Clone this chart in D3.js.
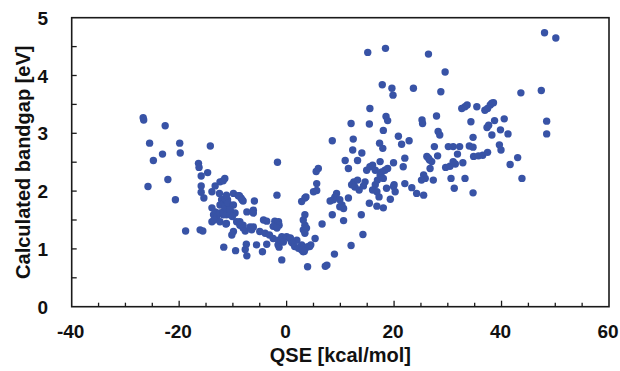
<!DOCTYPE html>
<html>
<head>
<meta charset="utf-8">
<script src="https://cdn.jsdelivr.net/npm/d3@7"></script>
<style>
  body { margin: 0; background: #fff; }
  text { font-family: "Liberation Sans", Arial, sans-serif; font-weight: bold; fill: #111; }
</style>
</head>
<body>
<svg id="chart" width="620" height="371"></svg>
<script>
// QSE [kcal/mol] vs calculated bandgap [eV]
const qse = [
  -26.7, -26.6, -25.5, -24.8, -25.8, -23.1, -22.6, -22.1, -20.7, -19.9, -19.8, -18.8,
  -16.4, -16.3, -15.9, -15.9, -15.9, -15.4, -16.1, -15.6, -14.7, -14.2, -13.9, -13.3,
  -12.4, -11.8, -11.5, -12.5, -12.1, -11.8, -11.0, -13.9, -13.3, -13.6, -13.0, -13.9,
  -13.5, -12.4, -11.3, -11.7, -12.4, -11.8, -11.5, -11.2, -11.5, -11.2, -11.8, -11.2,
  -10.2, -9.6, -11.2, -9.9, -9.0, -8.5, -8.1, -12.4, -11.5, -10.9, -9.9, -10.5,
  -10.6, -10.5, -10.1, -8.7, -8.1, -8.8, -8.3,
  -9.3, -8.7, -8.1, -7.7, -9.9, -10.2, -6.8, -6.5, -6.2, -5.0, -4.3, -3.7,
  -2.2, -1.5, -1.4, -4.0, -3.2, -2.5, -1.5, -0.9, -7.4, -6.2, -6.2, -6.0,
  -1.7, -1.8, -9.5, -7.7, -7.4, -5.6, -4.5, -3.7, -0.9, -7.5, -2.5, -1.8,
  -1.6, -1.4, -1.1,
  0.0, 0.6, 0.9, -0.6, 1.9, 2.8, 3.7, 3.1, 3.4, 3.1, 3.4, 3.9, 2.8, 3.4, 3.1, 4.0,
  0.7, 1.1, 1.5, 2.2, 2.8, 3.3, 4.3, 4.5, 3.7, 3.4,
  5.9, 5.5, 5.6, 5.0, 5.6, 3.6, 9.3, 9.0, 8.7, 8.1, 9.9, 10.3, 10.6, 9.9, 11.5,
  8.5, 13.9, 6.6, 10.6, 5.3, 14.2, 12.0, 8.9, 7.5, 7.2, 8.5, 12.0, 12.4, 12.3,
  14.0, 10.9, 13.2, 11.5, 14.9, 12.5, 13.2, 12.1, 12.7, 14.6, 14.3, 13.5,
  15.5, 18.5, 18.8, 15.4, 18.0, 20.8, 17.3, 17.9, 15.5, 16.0, 16.5, 19.9, 18.6,
  20.0, 19.3, 17.2, 15.4, 16.8, 18.0, 15.1, 18.4, 17.8, 19.6, 19.8, 23.6, 21.4,
  22.8, 22.0, 21.7, 22.0, 23.3, 24.2, 20.2, 19.9, 17.4, 18.3, 18.8, 17.7, 16.9,
  16.5, 16.0, 16.8, 17.4, 18.0,
  26.4, 29.5, 28.7, 32.6, 33.2, 33.6, 35.4, 36.9, 37.4, 37.9, 38.2, 38.5, 25.2,
  25.3, 27.9, 34.3, 37.3, 37.6, 38.7, 28.2, 28.5, 34.7, 38.2, 27.5, 30.1, 31.0,
  32.2, 34.0, 34.7, 26.1, 26.6, 27.0, 26.4, 28.1, 31.8, 34.8, 35.7, 36.5, 37.4,
  39.6, 39.9, 25.5, 25.8, 25.1, 27.3, 26.7, 29.6, 30.4, 31.4, 31.0, 32.8, 30.6,
  33.2, 31.2, 34.7, 25.5,
  48.0, 50.1, 43.6, 47.4, 40.5, 48.4, 48.4, 39.8, 41.2, 43.0, 41.6, 43.8
];
const bandgap = [
  3.27, 3.23, 2.83, 2.53, 2.08, 2.64, 3.13, 2.20, 1.85, 2.83, 2.66, 1.31,
  2.48, 2.41, 2.26, 2.09, 1.98, 1.88, 1.33, 1.31, 2.32, 2.78, 1.99, 2.09,
  2.16, 2.18, 2.22, 1.96, 1.85, 1.79, 1.85, 1.71, 1.64, 1.59, 1.56, 1.47,
  1.50, 1.47, 1.43, 1.03, 1.62, 1.59, 1.67, 1.73, 1.87, 1.93, 1.64, 1.59,
  1.62, 1.62, 1.44, 1.96, 1.92, 1.88, 1.83, 1.76, 1.73, 1.79, 1.76, 1.67,
  1.68, 1.59, 1.56, 1.47, 1.41, 1.92, 1.85,
  1.47, 1.41, 1.36, 1.31, 1.30, 1.24, 1.38, 1.33, 1.38, 1.30, 1.50, 1.48,
  1.48, 1.47, 1.41, 1.27, 1.24, 1.18, 1.15, 1.21, 1.64, 1.67, 1.62, 1.83,
  2.50, 1.93, 0.97, 0.99, 0.88, 1.07, 0.95, 1.08, 0.81, 1.08, 1.39, 1.36,
  1.07, 1.03, 1.16,
  1.21, 1.18, 1.12, 1.12, 1.15, 1.07, 1.03, 1.33, 1.41, 1.50, 1.59, 0.69, 1.82, 1.88, 0.95, 1.04,
  1.19, 1.10, 1.04, 1.01, 0.98, 0.96, 1.04, 1.07, 1.36, 1.27,
  2.39, 2.34, 2.13, 1.99, 2.01, 1.90, 1.96, 1.90, 1.85, 1.83, 1.85, 1.76, 1.70, 1.73, 1.88,
  1.59, 1.59, 1.43, 1.49, 1.18, 1.25, 1.06, 0.91, 0.72, 0.70, 2.87, 3.17, 2.90, 2.71,
  2.66, 2.53, 2.53, 2.39, 2.36, 2.16, 2.19, 2.11, 2.07, 2.16, 2.09, 2.02,
  3.43, 3.29, 3.22, 3.16, 3.05, 2.95, 2.83, 2.74, 2.42, 2.45, 2.36, 2.49, 2.05,
  2.11, 1.86, 1.90, 1.79, 1.74, 1.71, 4.40, 4.47, 3.84, 3.78, 3.66, 3.78, 2.81,
  2.87, 2.57, 2.42, 2.13, 2.06, 1.96, 1.99, 2.08, 2.51, 2.36, 2.39, 2.33, 2.19,
  2.11, 2.02, 1.99, 2.28, 2.22,
  4.37, 4.06, 3.72, 3.43, 3.46, 3.49, 3.46, 3.40, 3.43, 3.49, 3.52, 3.53, 3.23,
  3.17, 3.30, 3.20, 3.10, 3.14, 3.22, 3.03, 2.97, 2.93, 2.97, 2.77, 2.77, 2.77,
  2.77, 2.78, 2.76, 2.60, 2.54, 2.51, 2.57, 2.61, 2.64, 2.60, 2.61, 2.62, 2.67,
  2.80, 2.71, 2.28, 2.22, 2.19, 2.19, 2.39, 2.41, 2.43, 2.47, 2.51, 2.49, 2.22,
  2.22, 2.05, 1.97, 1.93,
  4.74, 4.65, 3.70, 3.74, 3.25, 3.21, 2.99, 3.06, 2.99, 2.58, 2.46, 2.22
];
const xTickLabels = [-40, -20, 0, 20, 40, 60];
const yTickLabels = [0, 1, 2, 3, 4, 5];

const svg = d3.select('#chart');
const plotLeft = 71.7, plotRight = 609, plotTop = 17.7, plotBottom = 306.7;

const x = d3.scaleLinear().domain([-40, 60]).range([plotLeft, plotRight]);
const y = d3.scaleLinear().domain([0, 5]).range([plotBottom, plotTop]);

const points = qse.map((q, i) => ({ q, g: bandgap[i] }));

// points
svg.append('g')
    .selectAll('circle')
    .data(points)
    .enter()
    .append('circle')
    .attr('cx', d => x(d.q))
    .attr('cy', d => y(d.g))
    .attr('r', 3.7)
    .attr('fill', '#3853a6');

// frame
svg.append('rect')
    .attr('x', plotLeft).attr('y', plotTop)
    .attr('width', plotRight - plotLeft).attr('height', plotBottom - plotTop)
    .attr('fill', 'none').attr('stroke', '#1a1a1a').attr('stroke-width', 1.6);

// x axis: inward ticks every 5, longer at labels
const xMinor = d3.range(-35, 60, 5);
svg.append('g').attr('transform', `translate(0,${plotBottom})`)
    .selectAll('line')
    .data(xMinor)
    .enter()
    .append('line')
    .attr('x1', d => x(d)).attr('x2', d => x(d))
    .attr('y1', 0).attr('y2', d => xTickLabels.includes(d) ? -6 : -4)
    .attr('stroke', '#1a1a1a').attr('stroke-width', 1.3);

svg.append('g')
    .selectAll('text')
    .data(xTickLabels)
    .enter()
    .append('text')
    .attr('x', d => x(d) - 1)
    .attr('y', 338)
    .attr('text-anchor', 'middle')
    .attr('font-size', 19)
    .text(d => d);

// y axis: inward ticks every 0.5
const yMinor = d3.range(0.5, 5, 0.5);
svg.append('g').attr('transform', `translate(${plotLeft},0)`)
    .selectAll('line')
    .data(yMinor)
    .enter()
    .append('line')
    .attr('x1', 0).attr('x2', 5)
    .attr('y1', d => y(d)).attr('y2', d => y(d))
    .attr('stroke', '#1a1a1a').attr('stroke-width', 1.3);

svg.append('g')
    .selectAll('text')
    .data(yTickLabels)
    .enter()
    .append('text')
    .attr('x', 48)
    .attr('y', d => y(d) + 7)
    .attr('text-anchor', 'end')
    .attr('font-size', 19)
    .text(d => d);

// axis titles
svg.append('text')
    .attr('x', (plotLeft + plotRight) / 2)
    .attr('y', 362)
    .attr('text-anchor', 'middle')
    .attr('font-size', 20)
    .text('QSE [kcal/mol]');

svg.append('text')
    .attr('transform', `translate(29.5,${(plotTop + plotBottom) / 2}) rotate(-90)`)
    .attr('text-anchor', 'middle')
    .attr('font-size', 20)
    .text('Calculated bandgap [eV]');
</script>
</body>
</html>
